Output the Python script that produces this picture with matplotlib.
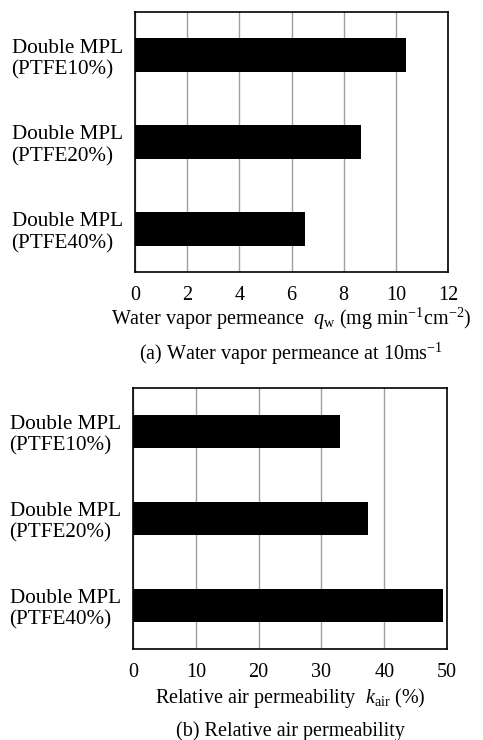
import matplotlib

matplotlib.use("Agg")
import matplotlib.pyplot as plt

plt.rcParams["font.family"] = "Liberation Serif"
plt.rcParams["mathtext.fontset"] = "custom"
plt.rcParams["mathtext.rm"] = "Liberation Serif"
plt.rcParams["mathtext.it"] = "Liberation Serif:italic"

samples = ["Double MPL\n(PTFE10%)", "Double MPL\n(PTFE20%)", "Double MPL\n(PTFE40%)"]
vapor_permeance = [10.4, 8.65, 6.5]  # mg min-1 cm-2
air_permeability = [32.9, 37.4, 49.3]  # %

vapor_ticks = [0, 2, 4, 6, 8, 10, 12]
air_ticks = [0, 10, 20, 30, 40, 50]

fig = plt.figure(figsize=(4.83, 7.40), dpi=100)
ax_a = fig.add_axes([135 / 483, 1 - 272 / 740, 313 / 483, 260 / 740])
ax_b = fig.add_axes([133 / 483, 1 - 649 / 740, 314 / 483, 261 / 740])


def bar_panel(ax, values, ticks, xlabel, caption, labelpad):
    pos = range(len(samples))
    ax.barh(pos, values, height=0.39, color="black", zorder=3)
    ax.set_xlim(ticks[0], ticks[-1])
    ax.set_ylim(len(samples) - 0.5, -0.5)
    ax.set_xticks(ticks)
    ax.set_yticks(list(pos))
    ax.set_yticklabels(samples, ma="left")
    ax.xaxis.grid(True, color="#a0a0a0", linewidth=1.0, zorder=0)
    ax.tick_params(axis="x", length=0, labelsize=14.5, pad=10)
    ax.tick_params(axis="y", length=0, labelsize=15.2, pad=9)
    for sp in ax.spines.values():
        sp.set_linewidth(1.2)
    ax.set_xlabel(xlabel, fontsize=14.5, labelpad=labelpad)
    ax.text(0.5, -0.315, caption, transform=ax.transAxes, ha="center",
            va="center", fontsize=14.5)


bar_panel(ax_a, vapor_permeance, vapor_ticks,
          r"Water vapor permeance  $q_\mathrm{w}$ (mg min$^{-1}$cm$^{-2}$)",
          r"(a) Water vapor permeance at 10ms$^{-1}$", 1)
bar_panel(ax_b, air_permeability, air_ticks,
          r"Relative air permeability  $k_\mathrm{air}$ (%)",
          "(b) Relative air permeability", 3)

fig.savefig("out.png", dpi=100)
